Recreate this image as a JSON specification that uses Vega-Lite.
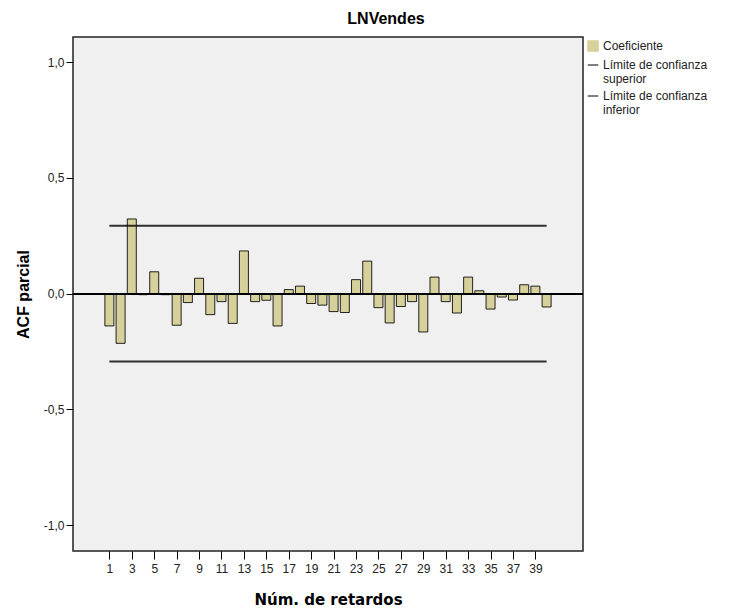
{
  "$schema": "https://vega.github.io/schema/vega-lite/v6.json",
  "autosize": "none",
  "width": 510,
  "height": 514,
  "padding": {"left": 73, "top": 37, "right": 146, "bottom": 57},
  "background": "white",
  "title": {
    "text": "LNVendes",
    "font": "Liberation Sans",
    "fontSize": 16,
    "fontWeight": "bold",
    "color": "#000000",
    "anchor": "middle",
    "frame": "group",
    "dx": 58,
    "offset": 10
  },
  "datasets": {
    "acf": [
      {"lag": 1, "acf": -0.140}, {"lag": 2, "acf": -0.215}, {"lag": 3, "acf": 0.322},
      {"lag": 4, "acf": -0.005}, {"lag": 5, "acf": 0.094}, {"lag": 6, "acf": -0.005},
      {"lag": 7, "acf": -0.137}, {"lag": 8, "acf": -0.039}, {"lag": 9, "acf": 0.066},
      {"lag": 10, "acf": -0.091}, {"lag": 11, "acf": -0.035}, {"lag": 12, "acf": -0.129},
      {"lag": 13, "acf": 0.184}, {"lag": 14, "acf": -0.035}, {"lag": 15, "acf": -0.029},
      {"lag": 16, "acf": -0.140}, {"lag": 17, "acf": 0.017}, {"lag": 18, "acf": 0.032},
      {"lag": 19, "acf": -0.043}, {"lag": 20, "acf": -0.050}, {"lag": 21, "acf": -0.078},
      {"lag": 22, "acf": -0.082}, {"lag": 23, "acf": 0.060}, {"lag": 24, "acf": 0.140},
      {"lag": 25, "acf": -0.061}, {"lag": 26, "acf": -0.127}, {"lag": 27, "acf": -0.056},
      {"lag": 28, "acf": -0.035}, {"lag": 29, "acf": -0.166}, {"lag": 30, "acf": 0.071},
      {"lag": 31, "acf": -0.035}, {"lag": 32, "acf": -0.084}, {"lag": 33, "acf": 0.071},
      {"lag": 34, "acf": 0.012}, {"lag": 35, "acf": -0.067}, {"lag": 36, "acf": -0.015},
      {"lag": 37, "acf": -0.028}, {"lag": 38, "acf": 0.038}, {"lag": 39, "acf": 0.032},
      {"lag": 40, "acf": -0.058}
    ],
    "limits": [
      {"serie": "Límite de confianza superior", "desde": 1, "hasta": 40, "valor": 0.293},
      {"serie": "Límite de confianza inferior", "desde": 1, "hasta": 40, "valor": -0.293}
    ]
  },
  "layer": [
    {
      "data": {"name": "acf"},
      "mark": {"type": "bar", "width": 9, "stroke": "#000000", "strokeWidth": 1, "strokeOpacity": 0.85},
      "encoding": {
        "x": {
          "field": "lag",
          "type": "quantitative",
          "scale": {"domain": [-1.8, 42.8], "nice": false, "zero": false},
          "axis": {
            "title": "Núm. de retardos",
            "values": [1, 3, 5, 7, 9, 11, 13, 15, 17, 19, 21, 23, 25, 27, 29, 31, 33, 35, 37, 39],
            "tickCount": 60,
            "labelOverlap": false,
            "grid": false,
            "domain": false,
            "tickColor": "#000000",
            "tickSize": 8,
            "labelFont": "Liberation Sans",
            "labelFontSize": 12,
            "labelColor": "#222222",
            "labelPadding": 4,
            "titleFont": "DejaVu Sans",
            "titleFontSize": 15,
            "titleFontWeight": "bold",
            "titleColor": "#000000",
            "titlePadding": 18
          }
        },
        "y": {
          "field": "acf",
          "type": "quantitative",
          "scale": {"domain": [-1.112, 1.108], "nice": false},
          "axis": {
            "title": "ACF parcial",
            "values": [-1, -0.5, 0, 0.5, 1],
            "tickCount": 20,
            "labelExpr": "replace(replace(format(datum.value, '.1f'), '.', ','), '\u2212', '-')",
            "grid": false,
            "domain": false,
            "tickColor": "#000000",
            "tickSize": 7,
            "labelFont": "Liberation Sans",
            "labelFontSize": 12,
            "labelColor": "#222222",
            "labelPadding": 2,
            "titleFont": "Liberation Sans",
            "titleFontSize": 16,
            "titleFontWeight": "bold",
            "titleColor": "#000000",
            "titlePadding": 12
          }
        },
        "y2": {"datum": 0},
        "color": {
          "datum": "Coeficiente",
          "scale": {
            "domain": ["Coeficiente", "Límite de confianza superior", "Límite de confianza inferior"],
            "range": ["#d6d09b", "#000000", "#000000"]
          },
          "legend": {
            "title": null,
            "labelExpr": "datum.label == 'Coeficiente' ? datum.label : ['Límite de confianza', replace(datum.label, 'Límite de confianza ', '')]",
            "encode": {
              "symbols": {
                "update": {
                  "shape": {"signal": "datum.value == 'Coeficiente' ? 'square' : 'stroke'"},
                  "stroke": {"value": "#000000"},
                  "strokeWidth": {"value": 1},
                  "fill": {"signal": "datum.value == 'Coeficiente' ? '#d6d09b' : 'transparent'"}
                }
              }
            }
          }
        }
      }
    },
    {
      "data": {"name": "acf"},
      "mark": {"type": "rule", "color": "#000000", "strokeWidth": 1.2},
      "encoding": {"y": {"datum": 0}}
    },
    {
      "data": {"name": "limits"},
      "mark": {"type": "rule", "strokeWidth": 2, "strokeOpacity": 0.8},
      "encoding": {
        "x": {"field": "desde", "type": "quantitative"},
        "x2": {"field": "hasta"},
        "y": {"field": "valor", "type": "quantitative"},
        "color": {"field": "serie", "type": "nominal", "title": null}
      }
    }
  ],
  "resolve": {"scale": {"color": "shared"}},
  "config": {
    "font": "Liberation Sans",
    "view": {"fill": "#f0f0f0", "stroke": "#222222", "strokeWidth": 1.5},
    "legend": {
      "orient": "none",
      "legendX": 514,
      "legendY": 3,
      "title": null,
      "labelFont": "Liberation Sans",
      "labelFontSize": 12,
      "labelColor": "#222222",
      "labelLimit": 0,
      "symbolStrokeColor": "#000000",
      "symbolStrokeWidth": 1,
      "symbolSize": 110,
      "rowPadding": 5,
      "labelOffset": 4
    }
  }
}
